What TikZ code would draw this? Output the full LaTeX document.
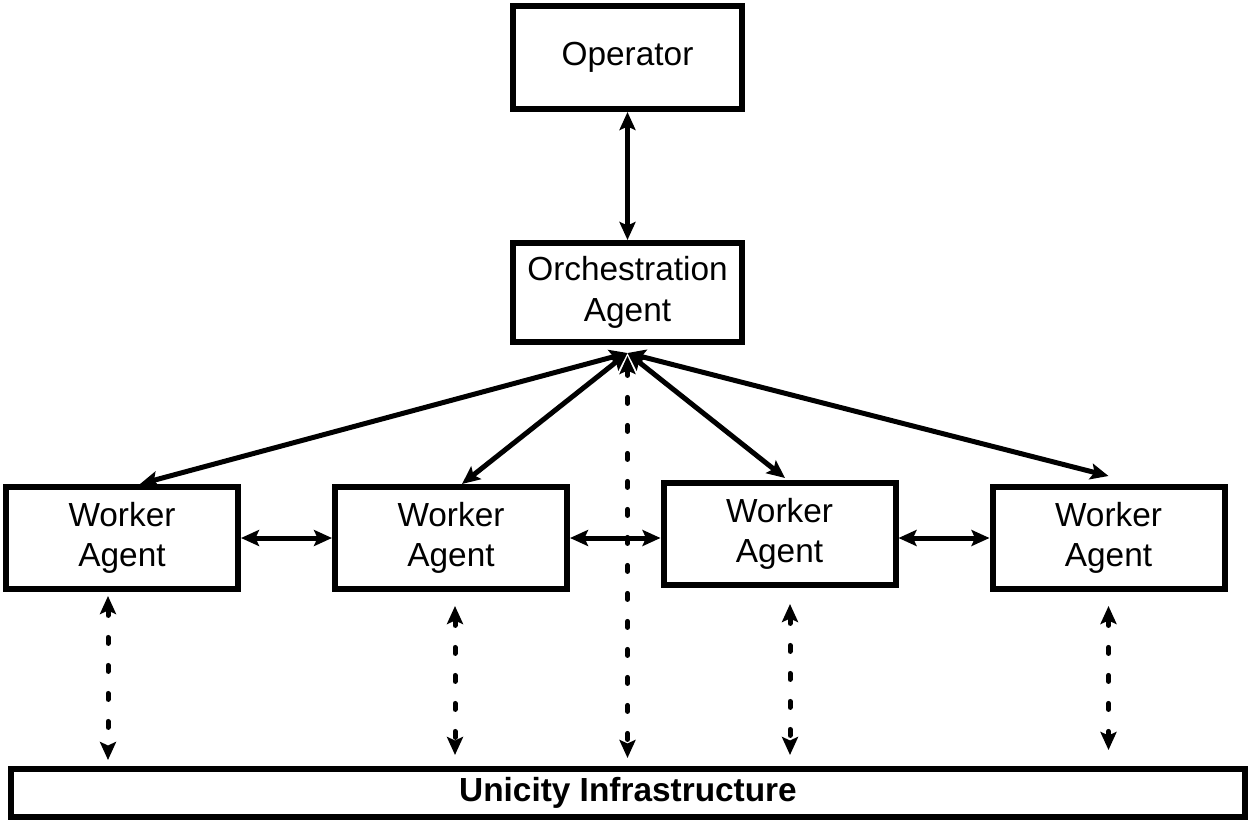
\documentclass[tikz,border=0pt]{standalone}
\usepackage{fontspec}
\setmainfont{Liberation Sans}
\usetikzlibrary{arrows.meta}
\tikzset{
    box/.style={draw, line width=0.12cm, align=center, inner sep=0pt, font=\fontsize{19}{23}\selectfont},
    agent/.style={box, minimum width=4.64cm, minimum height=2.04cm},
    link/.style={line width=0.1cm, {Stealth[length=3.6mm,width=3.2mm,inset=0.7mm]}-{Stealth[length=3.6mm,width=3.2mm,inset=0.7mm]}},
    dots/.style={link, line cap=round, dash pattern=on 0.12cm off 0.44cm}
}
\begin{document}
\begin{tikzpicture}
    \useasboundingbox (0,0) rectangle (25,16.44);
    \node[box, minimum width=4.58cm, minimum height=2.06cm] (op) at (12.55,15.29) {Operator};
    \node[box, minimum width=4.58cm, minimum height=1.98cm] (orch) at (12.55,10.59) {Orchestration\\Agent};
    \node[agent] (w1) at (2.44,5.68) {Worker\\Agent};
    \node[agent] (w2) at (9.02,5.68) {Worker\\Agent};
    \node[agent] (w3) at (15.59,5.76) {Worker\\Agent};
    \node[agent] (w4) at (22.17,5.68) {Worker\\Agent};
    \node[box, minimum width=24.68cm, minimum height=0.96cm, font=\fontsize{19}{23}\selectfont\bfseries] (uni) at (12.56,0.58) {Unicity Infrastructure};
    \coordinate (hub) at (12.55,9.38);
    \draw[link] (op) -- (orch);
    \draw[link] (hub) -- ([xshift=0.36cm]w1.north);
    \draw[link] (hub) -- ([xshift=0.22cm]w2.north);
    \draw[link] (hub) -- ([xshift=0.11cm,yshift=0.04cm]w3.north);
    \draw[link] (hub) -- ([yshift=0.16cm]w4.north);
    \draw[link] (w1) -- (w2);
    \draw[link] (w2) -- (w3.west |- w2.east);
    \draw[link] (w3.east |- w4.west) -- (w4);
    \draw[dots] ([xshift=-0.28cm,yshift=-0.08cm]w1.south) -- ([xshift=-0.28cm,yshift=0.12cm]w1.south |- uni.north);
    \draw[dots] ([xshift=0.08cm,yshift=-0.28cm]w2.south) -- ([xshift=0.08cm,yshift=0.22cm]w2.south |- uni.north);
    \draw[dots] ([xshift=0.21cm,yshift=-0.32cm]w3.south) -- ([xshift=0.21cm,yshift=0.22cm]w3.south |- uni.north);
    \draw[dots] ([yshift=-0.28cm]w4.south) -- ([yshift=0.32cm]w4.south |- uni.north);
    \draw[dots] ([yshift=-0.06cm]hub) -- ([yshift=0.16cm]hub |- uni.north);
\end{tikzpicture}
\end{document}
